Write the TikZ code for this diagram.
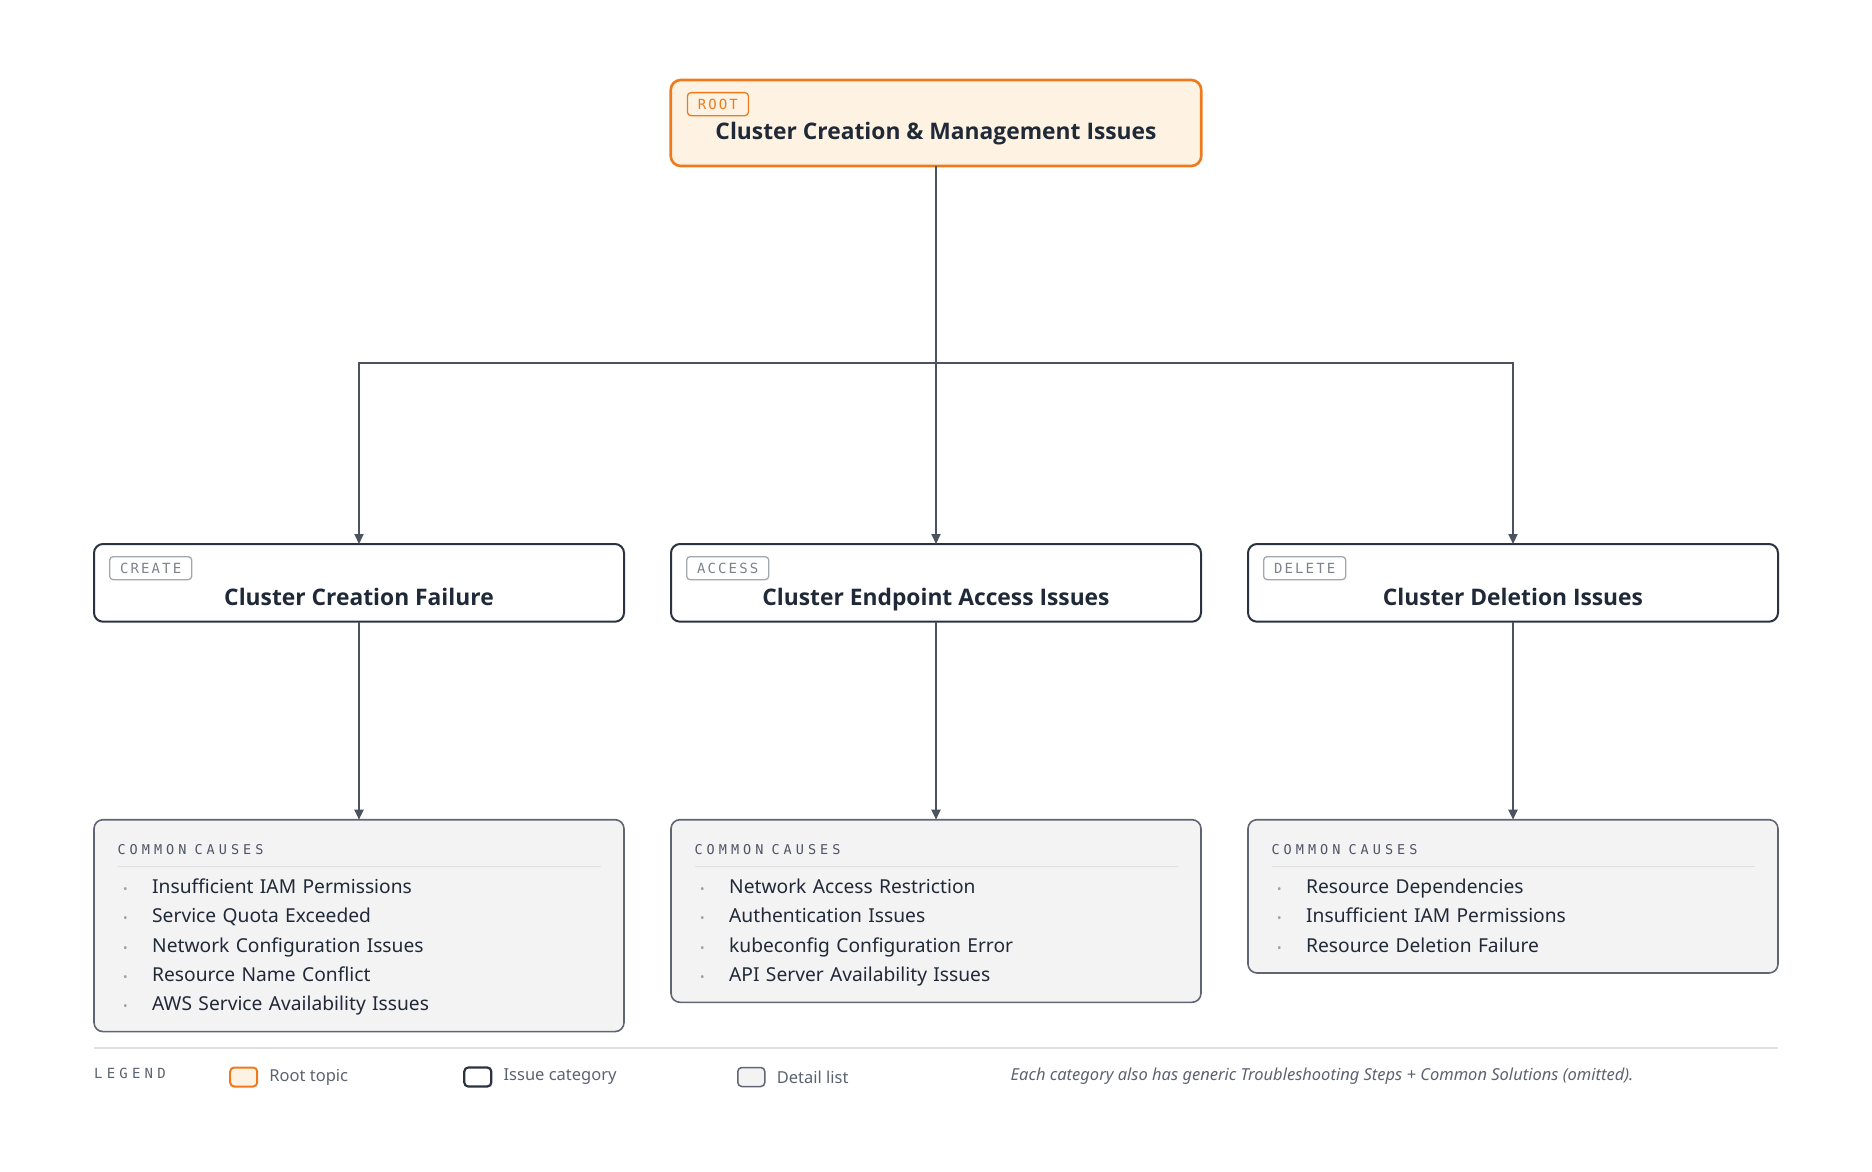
\documentclass[tikz,border=0pt]{standalone}
\usepackage{fontspec}
\usepackage{xcolor}
\usepackage{tikz}
\setmainfont{Noto Sans}
\newfontfamily\titlefont{Open Sans}
\newfontfamily\tagfont[LetterSpace=15]{DejaVu Sans Mono}
\newfontfamily\headfont[LetterSpace=30]{DejaVu Sans Mono}
\definecolor{rootorange}{HTML}{EE7A1E}
\definecolor{rootfill}{HTML}{FEF3E2}
\definecolor{inkdark}{HTML}{1F2937}
\definecolor{catline}{HTML}{2B3340}
\definecolor{linkgray}{HTML}{4B5361}
\definecolor{taggray}{HTML}{7D838C}
\definecolor{tagline}{HTML}{A3A7AE}
\definecolor{detailfill}{HTML}{F3F3F4}
\definecolor{detailline}{HTML}{5F6672}
\definecolor{headgray}{HTML}{4D5462}
\definecolor{rulegray}{HTML}{E0E0E3}
\definecolor{dotgray}{HTML}{9CA1A9}
\definecolor{legendgray}{HTML}{5C6370}
\usetikzlibrary{arrows.meta, positioning}

\newcommand\cause[1]{\makebox[34.7pt][l]{\hspace{5.5pt}\textcolor{dotgray}{\fontsize{12}{12}\selectfont\textbullet}}#1}
\newcommand\causehead{\rule{0pt}{34.6pt}{\headfont\fontsize{13.5}{13.5}\selectfont\color{headgray}COMMON\hspace{8pt}CAUSES}\\[-19.5pt]\textcolor{rulegray}{\rule[-2.7pt]{483pt}{1.2pt}}}
\newcommand\causeend{\rule[-21pt]{0pt}{21pt}}

\begin{document}
\begin{tikzpicture}[
    x=1pt, y=1pt,
    >={Triangle[length=10pt,width=9pt]},
    root/.style={rectangle, rounded corners=10pt, draw=rootorange, line width=2.6pt, fill=rootfill, minimum width=530.5pt, inner xsep=0pt, inner ysep=0pt, text height=59.6pt, text depth=26.4pt, font=\titlefont\bfseries\fontsize{22.8}{22.8}\selectfont, text=inkdark, outer sep=0pt},
    category/.style={rectangle, rounded corners=9pt, draw=catline, line width=2pt, fill=white, minimum width=530pt, inner xsep=0pt, inner ysep=0pt, text height=61.5pt, text depth=16.2pt, font=\titlefont\bfseries\fontsize{22.8}{22.8}\selectfont, text=inkdark, outer sep=0pt},
    tag/.style={rectangle, rounded corners=3.5pt, draw=tagline, line width=1.3pt, inner xsep=10.5pt, inner ysep=0pt, minimum height=23pt, font=\tagfont\fontsize{14}{14}\selectfont, text=taggray, anchor=north west},
    roottag/.style={tag, draw=rootorange, text=rootorange},
    causes/.style={rectangle, rounded corners=9pt, draw=detailline, line width=1.6pt, fill=detailfill, text width=483pt, inner xsep=23.5pt, inner ysep=0pt, align=left, font=\fontsize{19.2}{29.3}\selectfont, text=inkdark, outer sep=0pt},
    link/.style={->, draw=linkgray, line width=2pt},
    key/.style={rectangle, rounded corners=4pt, minimum width=27pt, minimum height=19pt, inner sep=0pt},
    keytext/.style={font=\fontsize{16.5}{16.5}\selectfont, text=legendgray, inner sep=0pt}
]
\useasboundingbox (0,0) rectangle (1872,-1172);

\node[root] (root) at (936,-123) {Cluster Creation \& Management Issues};
\node[roottag, below right=12pt and 16pt of root.north west] (roottag) {ROOT};

\node[category, below=378pt of root] (access) {Cluster Endpoint Access Issues};
\node[category, left=47pt of access] (create) {Cluster Creation Failure};
\node[category, right=47pt of access] (delete) {Cluster Deletion Issues};
\node[tag, below right=12pt and 15pt of create.north west] (createtag) {CREATE};
\node[tag, below right=12pt and 15pt of access.north west] (accesstag) {ACCESS};
\node[tag, below right=12pt and 15pt of delete.north west] (deletetag) {DELETE};

\node[causes, below=198pt of create] (createcauses) {\causehead\\
    \cause{Insufficient IAM Permissions}\\
    \cause{Service Quota Exceeded}\\
    \cause{Network Configuration Issues}\\
    \cause{Resource Name Conflict}\\
    \cause{AWS Service Availability Issues}\causeend};
\node[causes, below=198pt of access] (accesscauses) {\causehead\\
    \cause{Network Access Restriction}\\
    \cause{Authentication Issues}\\
    \cause{kubeconfig Configuration Error}\\
    \cause{API Server Availability Issues}\causeend};
\node[causes, below=198pt of delete] (deletecauses) {\causehead\\
    \cause{Resource Dependencies}\\
    \cause{Insufficient IAM Permissions}\\
    \cause{Resource Deletion Failure}\causeend};

\coordinate[below=197pt of root.south] (bus);
\draw[link] (root.south) -- (bus) -| (create.north);
\draw[link] (root.south) -- (access.north);
\draw[link] (bus) -| (delete.north);
\draw[link] (create.south) -- (createcauses.north);
\draw[link] (access.south) -- (accesscauses.north);
\draw[link] (delete.south) -- (deletecauses.north);

\coordinate (legendrule) at (0,-1048);
\draw[rulegray, line width=1.5pt] (create.west |- legendrule) -- (delete.east |- legendrule);
\node[font=\headfont\fontsize{14}{14}\selectfont, text=legendgray, anchor=west, inner sep=0pt] (legend) at (94,-1073) {LEGEND};
\node[key, fill=rootfill, draw=rootorange, line width=2pt] (rootkey) at (243.7,-1077) {};
\node[keytext, right=11pt of rootkey] (rootkeytext) {Root topic};
\node[key, fill=white, draw=catline, line width=2.2pt] (catkey) at (477.8,-1077) {};
\node[keytext, right=11pt of catkey] (catkeytext) {Issue category};
\node[key, fill=detailfill, draw=detailline, line width=1.5pt] (causekey) at (751.3,-1077) {};
\node[keytext, right=11pt of causekey] (causekeytext) {Detail list};
\node[keytext, font=\itshape\fontsize{16.5}{16.5}\selectfont, anchor=west] (omitted) at (1010.5,-1076) {Each category also has generic Troubleshooting Steps + Common Solutions (omitted).};

\end{tikzpicture}
\end{document}
